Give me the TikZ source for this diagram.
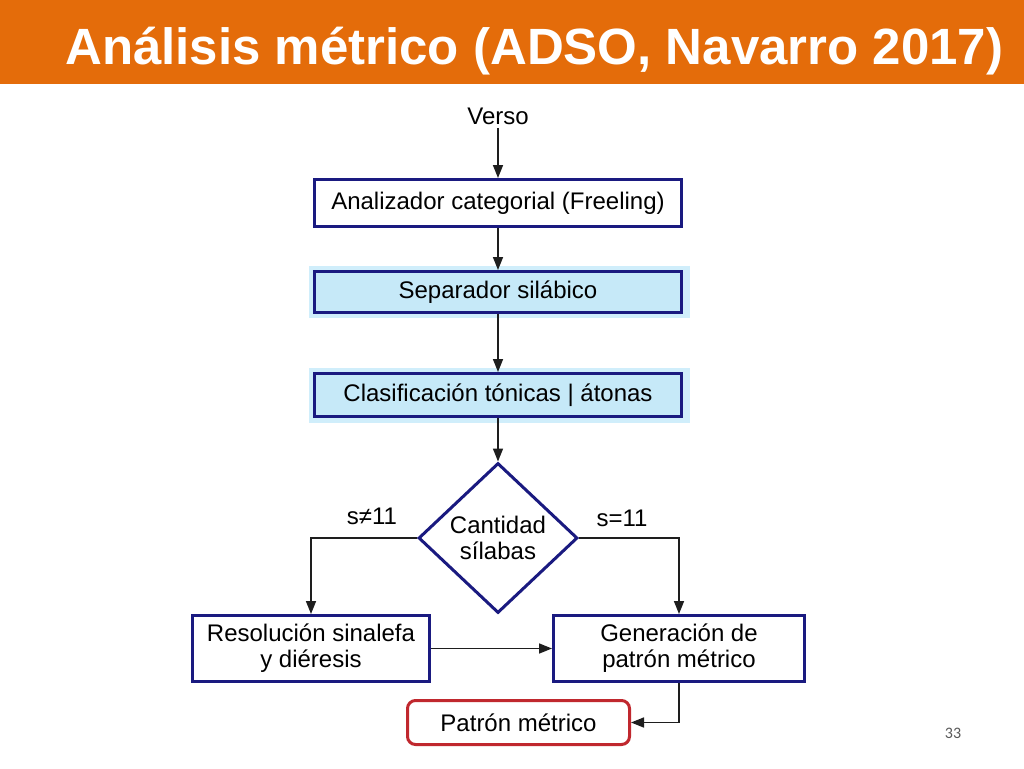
\documentclass[tikz,border=0pt]{standalone}
\usepackage{fontspec}
\setmainfont{Liberation Sans}
\newfontfamily\numfont{Carlito}
\usetikzlibrary{shapes.geometric,arrows.meta}
\definecolor{orng}{RGB}{228,108,10}
\definecolor{navy}{RGB}{26,26,128}
\definecolor{lblue}{RGB}{198,233,248}
\definecolor{hblue}{RGB}{208,238,251}
\definecolor{redb}{RGB}{192,40,46}
\definecolor{linec}{RGB}{30,30,30}
\definecolor{pgnum}{RGB}{89,89,89}
\begin{document}
\begin{tikzpicture}[x=1pt,y=-1pt,
  txt/.style={font=\fontsize{24}{26}\selectfont, text=black},
  proc/.style={txt, draw=navy, line width=3pt, rectangle, inner sep=0pt, align=center},
  hl/.style={fill=hblue, draw=none, rectangle, inner sep=0pt},
  decide/.style={txt, draw=navy, line width=3pt, diamond, inner sep=0pt, align=center},
  final/.style={txt, draw=redb, line width=3pt, rectangle, rounded corners=8pt, inner sep=0pt},
  conn/.style={draw=linec, line width=1.6pt, -{Triangle[length=13pt,width=10pt]}},
  lbl/.style={txt}
]
\useasboundingbox (0,0) rectangle (1024,768);
\fill[white] (0,0) rectangle (1024,768);
\fill[orng] (0,0) rectangle (1024,84);
\node[anchor=base west, inner sep=0pt, text=white, font=\fontsize{51}{56}\selectfont\bfseries] (title) at (65,64) {Análisis métrico (ADSO, Navarro 2017)};

\node[txt] (verso) at (498,116) {Verso};
\node[proc, fill=white, minimum width=367, minimum height=47] (b1) at (498,203) {Analizador categorial (Freeling)};

\node[hl, minimum width=381, minimum height=52] (h2) at (499.5,292) {};
\node[proc, fill=lblue, minimum width=367, minimum height=41] (b2) at (498,292) {Separador silábico};

\node[hl, minimum width=381, minimum height=55] (h3) at (499.5,395.5) {};
\node[proc, fill=lblue, minimum width=367, minimum height=43] (b3) at (498,395) {Clasificación tónicas | átonas};

\node[decide, fill=white, minimum width=159, minimum height=150] (dia) at (498,538) {Cantidad\\sílabas};

\node[proc, fill=white, minimum width=237, minimum height=66] (res) at (311,648.5) {Resolución sinalefa\\y diéresis};
\node[proc, fill=white, minimum width=251, minimum height=66] (gen) at (679,648.5) {Generación de\\patrón métrico};
\node[final, fill=white, minimum width=222, minimum height=44] (pat) at (518.5,722.5) {Patrón métrico};

\node[lbl] (ne) at (372,516) {s≠11};
\node[lbl] (eq) at (622,518) {s=11};

\node[text=pgnum, font=\numfont\fontsize{16}{18}\selectfont] (pg) at (953,733) {33};

\draw[conn] (verso.south) -- (b1.north);
\draw[conn] (b1.south) -- (b2.north);
\draw[conn] (b2.south) -- (b3.north);
\draw[conn] (b3.south) -- (dia.north);
\draw[conn] (dia.west) -| (res.north);
\draw[conn] (dia.east) -| (gen.north);
\draw[conn] (res.east) -- (gen.west);
\draw[conn] (gen.south) |- (pat.east);
\end{tikzpicture}
\end{document}
